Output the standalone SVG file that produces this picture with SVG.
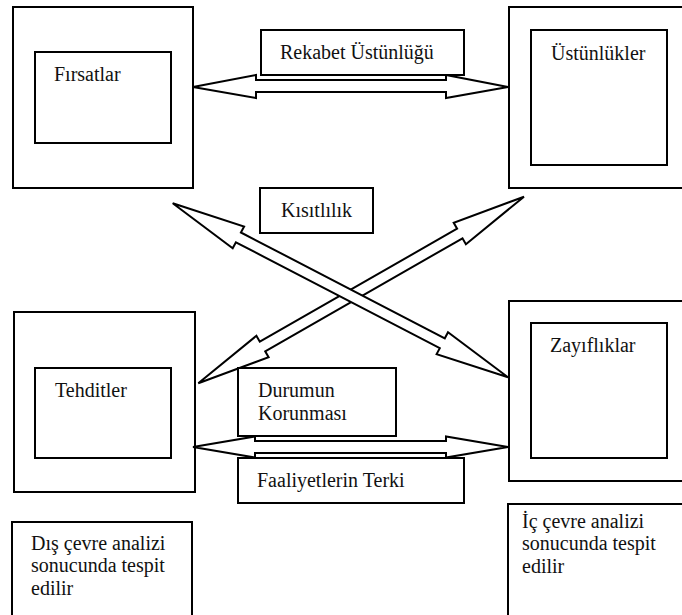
<svg xmlns="http://www.w3.org/2000/svg" width="682" height="615" viewBox="0 0 682 615">
<style>
  .box { fill: #ffffff; stroke: #000000; stroke-width: 2; }
  .arr { fill: #ffffff; stroke: #000000; stroke-width: 2; stroke-linejoin: miter; }
  .t { font-family: 'Liberation Serif', 'Times New Roman', Times, serif; font-size: 20px; fill: #111111; }
</style>
<rect x="0" y="0" width="682" height="615" fill="#ffffff"/>

<g id="firsatlar">
  <rect class="box" x="13" y="7" width="180" height="181"/>
  <rect class="box" x="35" y="52" width="136" height="91"/>
  <text class="t" font-family="Liberation Serif, serif" x="54" y="81">Fırsatlar</text>
</g>

<g id="ustunlukler">
  <rect class="box" x="509" y="7" width="180" height="181"/>
  <rect class="box" x="531" y="30" width="136" height="135"/>
  <text class="t" font-family="Liberation Serif, serif" x="551" y="60">Üstünlükler</text>
</g>

<g id="tehditler">
  <rect class="box" x="14" y="312" width="181" height="180"/>
  <rect class="box" x="35" y="368" width="136" height="90"/>
  <text class="t" font-family="Liberation Serif, serif" x="55" y="397">Tehditler</text>
</g>

<g id="zayifliklar">
  <rect class="box" x="509" y="301" width="180" height="180"/>
  <rect class="box" x="531" y="323" width="136" height="135"/>
  <text class="t" font-family="Liberation Serif, serif" x="550" y="352">Zayıflıklar</text>
</g>

<g id="connectors">
  <polygon class="arr" points="193,87 256,75 256,80 446,80 446,75 508,87 446,98 446,92 256,92 256,98"/>
  <polygon class="arr" points="193,447 255,436.5 255,441 446,441 446,436.5 508,447 446,457.5 446,453 255,453 255,457.5"/>
  <polygon class="arr" points="524,196.7 453.7,222.8 457.1,228.7 259.8,341.7 256.4,335.8 198.3,383.3 268.6,357.2 265.2,351.3 462.5,238.3 465.9,244.2"/>
  <polygon class="arr" points="172.7,203.3 244.1,226.5 240.9,232.5 444.8,338.3 448,332.3 508,377.3 436.6,354.1 439.8,348.1 235.9,242.3 232.7,248.3"/>
</g>

<g id="rekabet">
  <rect class="box" x="261" y="30" width="203" height="45"/>
  <text class="t" font-family="Liberation Serif, serif" x="280" y="59">Rekabet Üstünlüğü</text>
</g>

<g id="kisitlilik">
  <rect class="box" x="260" y="188" width="113" height="45"/>
  <text class="t" font-family="Liberation Serif, serif" x="281" y="217">Kısıtlılık</text>
</g>

<g id="durumun">
  <rect class="box" x="238" y="368" width="158" height="68"/>
  <text class="t" font-family="Liberation Serif, serif" x="258" y="397">Durumun</text>
  <text class="t" font-family="Liberation Serif, serif" x="258" y="420">Korunması</text>
</g>

<g id="faaliyetler">
  <rect class="box" x="238" y="458" width="226" height="45"/>
  <text class="t" font-family="Liberation Serif, serif" x="257" y="487">Faaliyetlerin Terki</text>
</g>

<g id="dis-cevre">
  <rect class="box" x="12" y="522" width="180" height="100"/>
  <text class="t" font-family="Liberation Serif, serif" x="31" y="550">Dış çevre analizi</text>
  <text class="t" font-family="Liberation Serif, serif" x="31" y="572">sonucunda tespit</text>
  <text class="t" font-family="Liberation Serif, serif" x="31" y="595">edilir</text>
</g>

<g id="ic-cevre">
  <rect class="box" x="508" y="504" width="180" height="120"/>
  <text class="t" font-family="Liberation Serif, serif" x="522" y="528">İç çevre analizi</text>
  <text class="t" font-family="Liberation Serif, serif" x="522" y="550">sonucunda tespit</text>
  <text class="t" font-family="Liberation Serif, serif" x="522" y="573">edilir</text>
</g>
</svg>
